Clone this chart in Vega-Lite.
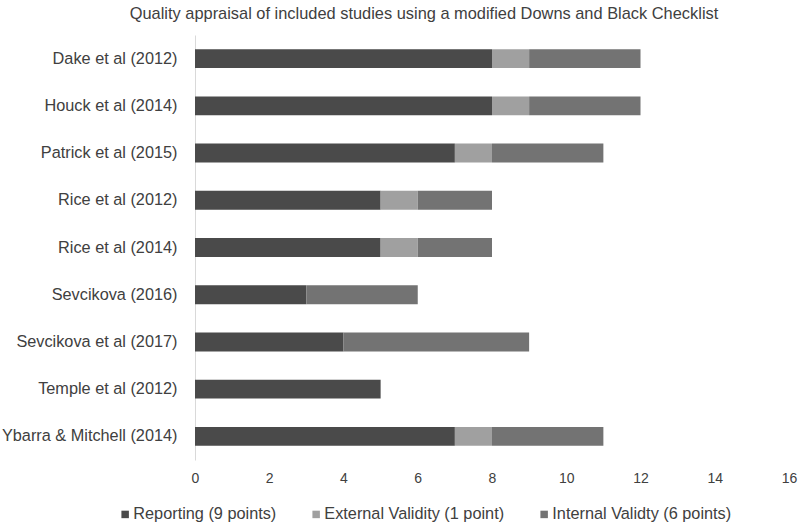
{
  "$schema": "https://vega.github.io/schema/vega-lite/v6.json",
  "autosize": "none",
  "width": 594,
  "height": 425,
  "padding": {"left": 195, "top": 35, "right": 11, "bottom": 70},
  "background": "white",
  "config": {
    "view": {"stroke": null},
    "font": "Liberation Sans"
  },
  "title": {
    "text": "Quality appraisal of included studies using a modified Downs and Black Checklist",
    "fontSize": 16.4,
    "fontWeight": "normal",
    "color": "#404040",
    "anchor": "middle",
    "dx": -68,
    "offset": 13
  },
  "data": {
    "values": [
      {"study": "Dake et al (2012)", "cat": "Reporting (9 points)", "o": 1, "v": 8},
      {"study": "Dake et al (2012)", "cat": "External Validity (1 point)", "o": 2, "v": 1},
      {"study": "Dake et al (2012)", "cat": "Internal Validty (6 points)", "o": 3, "v": 3},
      {"study": "Houck et al (2014)", "cat": "Reporting (9 points)", "o": 1, "v": 8},
      {"study": "Houck et al (2014)", "cat": "External Validity (1 point)", "o": 2, "v": 1},
      {"study": "Houck et al (2014)", "cat": "Internal Validty (6 points)", "o": 3, "v": 3},
      {"study": "Patrick et al (2015)", "cat": "Reporting (9 points)", "o": 1, "v": 7},
      {"study": "Patrick et al (2015)", "cat": "External Validity (1 point)", "o": 2, "v": 1},
      {"study": "Patrick et al (2015)", "cat": "Internal Validty (6 points)", "o": 3, "v": 3},
      {"study": "Rice et al (2012)", "cat": "Reporting (9 points)", "o": 1, "v": 5},
      {"study": "Rice et al (2012)", "cat": "External Validity (1 point)", "o": 2, "v": 1},
      {"study": "Rice et al (2012)", "cat": "Internal Validty (6 points)", "o": 3, "v": 2},
      {"study": "Rice et al (2014)", "cat": "Reporting (9 points)", "o": 1, "v": 5},
      {"study": "Rice et al (2014)", "cat": "External Validity (1 point)", "o": 2, "v": 1},
      {"study": "Rice et al (2014)", "cat": "Internal Validty (6 points)", "o": 3, "v": 2},
      {"study": "Sevcikova (2016)", "cat": "Reporting (9 points)", "o": 1, "v": 3},
      {"study": "Sevcikova (2016)", "cat": "External Validity (1 point)", "o": 2, "v": 0},
      {"study": "Sevcikova (2016)", "cat": "Internal Validty (6 points)", "o": 3, "v": 3},
      {"study": "Sevcikova et al (2017)", "cat": "Reporting (9 points)", "o": 1, "v": 4},
      {"study": "Sevcikova et al (2017)", "cat": "External Validity (1 point)", "o": 2, "v": 0},
      {"study": "Sevcikova et al (2017)", "cat": "Internal Validty (6 points)", "o": 3, "v": 5},
      {"study": "Temple et al (2012)", "cat": "Reporting (9 points)", "o": 1, "v": 5},
      {"study": "Temple et al (2012)", "cat": "External Validity (1 point)", "o": 2, "v": 0},
      {"study": "Temple et al (2012)", "cat": "Internal Validty (6 points)", "o": 3, "v": 0},
      {"study": "Ybarra & Mitchell (2014)", "cat": "Reporting (9 points)", "o": 1, "v": 7},
      {"study": "Ybarra & Mitchell (2014)", "cat": "External Validity (1 point)", "o": 2, "v": 1},
      {"study": "Ybarra & Mitchell (2014)", "cat": "Internal Validty (6 points)", "o": 3, "v": 3}
    ]
  },
  "mark": {"type": "bar"},
  "encoding": {
    "y": {
      "field": "study",
      "type": "nominal",
      "sort": null,
      "scale": {"paddingInner": 0.6, "paddingOuter": 0.3},
      "axis": {
        "title": null,
        "ticks": false,
        "domainColor": "#d9d9d9",
        "domainWidth": 1,
        "labelFontSize": 16.3,
        "labelColor": "#404040",
        "labelPadding": 18
      }
    },
    "x": {
      "field": "v",
      "type": "quantitative",
      "stack": "zero",
      "scale": {"domain": [0, 16], "nice": false},
      "axis": {
        "title": null,
        "values": [0, 2, 4, 6, 8, 10, 12, 14, 16],
        "grid": false,
        "domain": false,
        "ticks": false,
        "labelFlush": false,
        "labelFontSize": 14,
        "labelColor": "#404040",
        "labelPadding": 11
      }
    },
    "color": {
      "field": "cat",
      "type": "nominal",
      "sort": ["Reporting (9 points)", "External Validity (1 point)", "Internal Validty (6 points)"],
      "scale": {
        "domain": ["Reporting (9 points)", "External Validity (1 point)", "Internal Validty (6 points)"],
        "range": ["#4a4a4a", "#a0a0a0", "#737373"]
      },
      "legend": {
        "title": null,
        "orient": "none",
        "direction": "horizontal",
        "legendX": -78,
        "legendY": 471,
        "padding": 0,
        "symbolType": "square",
        "symbolSize": 56,
        "symbolStrokeWidth": 0,
        "labelFontSize": 16.3,
        "labelColor": "#404040",
        "labelOffset": 0,
        "labelLimit": 400,
        "columnPadding": 31
      }
    },
    "order": {"field": "o", "type": "quantitative"}
  }
}
